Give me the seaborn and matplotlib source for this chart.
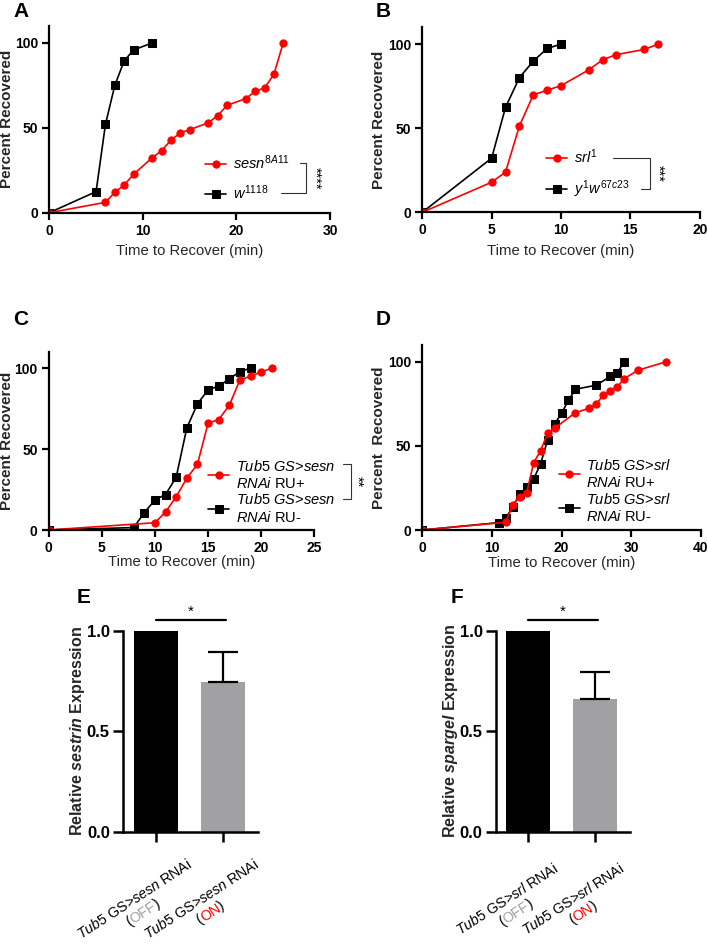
import numpy as np
import pandas as pd
import matplotlib
matplotlib.use('Agg')
import matplotlib.pyplot as plt
from matplotlib.ticker import FormatStrFormatter
import seaborn as sns

# --- Datos ---
# Panel A: sesn8A11 vs w1118
a_sesn_t = [0, 6, 7, 8, 9, 11, 12, 13, 14, 15, 17, 18, 19, 21, 22, 23, 24, 25]
a_sesn_pct = [0, 6.1, 12, 16.3, 22.6, 32.4, 36.5, 42.8, 47, 48.9, 53, 57.2, 63.3, 67.2, 71.5, 73.5, 81.5, 100]
a_w_t = [0, 5, 6, 7, 8, 9, 11]
a_w_pct = [0, 12.4, 52, 75, 89.4, 95.9, 100]

# Panel B: srl1 vs y1w67c23
b_srl_t = [0, 5, 6, 7, 8, 9, 10, 12, 13, 14, 16, 17]
b_srl_pct = [0, 17.9, 23.9, 51.3, 69.8, 72.6, 75.3, 84.7, 90.7, 93.8, 96.8, 100]
b_yw_t = [0, 5, 6, 7, 8, 9, 10]
b_yw_pct = [0, 32.2, 62.4, 80, 89.9, 97.4, 100]

# Panel C: Tub5 GS>sesn RNAi RU+ / RU-
c_on_t = [0, 10, 11, 12, 13, 14, 15, 16, 17, 18, 19, 20, 21]
c_on_pct = [0, 4.5, 11.1, 20.6, 32, 40.6, 66, 68.2, 77.1, 92.8, 95, 97.7, 100]
c_off_t = [0, 8, 9, 10, 11, 12, 13, 14, 15, 16, 17, 18, 19]
c_off_pct = [0, 1.5, 10.7, 18.6, 21.9, 32.6, 63.1, 77.9, 86.6, 88.9, 93.4, 97.9, 100]

# Panel D: Tub5 GS>srl RNAi RU+ / RU-
d_on_t = [0, 12, 13, 14, 15, 16, 17, 18, 19, 22, 24, 25, 26, 27, 28, 29, 31, 35]
d_on_pct = [0, 4.6, 15.1, 19.8, 22.2, 40, 47.2, 57.5, 60.5, 69.8, 72.4, 75, 80, 82.7, 84.9, 90, 95, 100]
d_off_t = [0, 11, 12, 13, 14, 15, 16, 17, 18, 19, 20, 21, 22, 25, 27, 28, 29]
d_off_pct = [0, 4.4, 7, 13.9, 21.2, 25.4, 30.4, 39.3, 53.6, 62.9, 69.4, 77, 83.7, 86.1, 91.3, 93.3, 100]

# Paneles E y F: expresion relativa
grupos = ['OFF', 'ON']
e_sestrin = [1.0, 0.745]
e_sestrin_err = [0, 0.15]
f_spargel = [1.0, 0.66]
f_spargel_err = [0, 0.136]

ROJO = '#ff0000'
GRIS = '#a1a1a4'

# --- Estilo ---
sns.set_style('ticks')
plt.rcParams['font.family'] = ['Liberation Sans', 'DejaVu Sans']
plt.rcParams['mathtext.fontset'] = 'custom'
plt.rcParams['mathtext.rm'] = 'Liberation Sans'
plt.rcParams['mathtext.it'] = 'Liberation Sans:italic'
plt.rcParams['mathtext.bf'] = 'Liberation Sans:bold'
try:
    plt.rcParams['mathtext.bfit'] = 'Liberation Sans:italic:bold'
except KeyError:
    pass
plt.rcParams['axes.edgecolor'] = 'black'
plt.rcParams['xtick.color'] = 'black'
plt.rcParams['ytick.color'] = 'black'
plt.rcParams['text.color'] = 'black'

W, H = 708, 947
fig = plt.figure(figsize=(W / 100, H / 100), dpi=100)


def ejes_px(l, t, r, b):
    return fig.add_axes([l / W, 1 - b / H, (r - l) / W, (b - t) / H])


def curva(ax, t, pct, color, marker, label):
    sns.lineplot(x=t, y=pct, color=color, marker=marker, markersize=5.2,
                 markeredgecolor=color, linewidth=1.2, errorbar=None,
                 label=label, ax=ax)
    return ax.lines[-1]


def estilo_curva(ax, xmax, xstep, xlab_y, ylab_x, ylabel='Percent Recovered'):
    ax.set_xlim(0, xmax)
    ax.set_ylim(0, 110)
    ax.set_xticks(np.arange(0, xmax + 1, xstep))
    ax.set_yticks([0, 50, 100])
    sns.despine(ax=ax)
    for sp in ['left', 'bottom']:
        ax.spines[sp].set_linewidth(1.6)
    ax.tick_params(direction='out', length=5, width=1.6, labelsize=10, pad=3)
    for lbl in ax.get_xticklabels() + ax.get_yticklabels():
        lbl.set_fontweight('bold')
    ax.set_xlabel('Time to Recover (min)', fontsize=10.7)
    ax.set_ylabel(ylabel, fontsize=11, fontweight='bold')
    ax.xaxis.set_label_coords(0.5, xlab_y)
    ax.yaxis.set_label_coords(ylab_x, 0.5)


def leyenda(ax, handles, labels, x, y, spacing):
    ax.legend(handles, labels, loc='center left', bbox_to_anchor=(x, y),
              frameon=False, fontsize=10.5, handlelength=1.45,
              handletextpad=0.45, labelspacing=spacing, borderpad=0,
              borderaxespad=0)


def corchete(ax, xs, ys, star_x, star_y, stars):
    ax.plot(xs, ys, transform=ax.transAxes, color='#333333', lw=0.8, clip_on=False)
    ax.text(star_x, star_y, stars, transform=ax.transAxes, rotation=270,
            ha='center', va='center', fontsize=10.5)


# --- A ---
ax_a = ejes_px(49.3, 26, 330, 212.7)
h_w = curva(ax_a, a_w_t, a_w_pct, 'black', 's', 'w')
h_s = curva(ax_a, a_sesn_t, a_sesn_pct, ROJO, 'o', 'sesn')
estilo_curva(ax_a, 30, 10, -0.165, -0.126)
leyenda(ax_a, [h_s, h_w], [r'$\mathit{sesn}^{\mathit{8A11}}$', r'$\mathit{w}^{\mathit{1118}}$'],
        0.555, 0.186, 0.8)
corchete(ax_a, [0.893, 0.915, 0.915, 0.825], [0.266, 0.266, 0.106, 0.106], 0.947, 0.186, '****')

# --- B ---
ax_b = ejes_px(422.3, 27.3, 699.7, 212.3)
h_y = curva(ax_b, b_yw_t, b_yw_pct, 'black', 's', 'yw')
h_r = curva(ax_b, b_srl_t, b_srl_pct, ROJO, 'o', 'srl')
estilo_curva(ax_b, 20, 5, -0.171, -0.13)
leyenda(ax_b, [h_r, h_y], [r'$\mathit{srl}^{\mathit{1}}$', r'$\mathit{y}^{\mathit{1}}\mathit{w}^{\mathit{67c23}}$'],
        0.447, 0.208, 0.8)
corchete(ax_b, [0.686, 0.82, 0.82, 0.789], [0.292, 0.292, 0.124, 0.124], 0.848, 0.208, '***')

# --- C ---
ax_c = ejes_px(48.7, 352, 314.3, 530)
h_coff = curva(ax_c, c_off_t, c_off_pct, 'black', 's', 'off')
h_con = curva(ax_c, c_on_t, c_on_pct, ROJO, 'o', 'on')
estilo_curva(ax_c, 25, 5, -0.138, -0.131)
leyenda(ax_c, [h_con, h_coff],
        [r'$\mathit{Tub5}$ $\mathit{GS}$>$\mathit{sesn}$' + '\n' + r'$\mathit{RNAi}$ RU+',
         r'$\mathit{Tub5}$ $\mathit{GS}$>$\mathit{sesn}$' + '\n' + r'$\mathit{RNAi}$ RU-'],
        0.6, 0.215, 0.1)
corchete(ax_c, [1.109, 1.137, 1.137, 1.109], [0.369, 0.369, 0.172, 0.172], 1.16, 0.27, '**')

# --- D ---
ax_d = ejes_px(422.3, 345, 700.7, 530)
h_doff = curva(ax_d, d_off_t, d_off_pct, 'black', 's', 'off')
h_don = curva(ax_d, d_on_t, d_on_pct, ROJO, 'o', 'on')
estilo_curva(ax_d, 40, 10, -0.142, -0.129, ylabel='Percent  Recovered')
leyenda(ax_d, [h_don, h_doff],
        [r'$\mathit{Tub5}$ $\mathit{GS}$>$\mathit{srl}$' + '\n' + r'$\mathit{RNAi}$ RU+',
         r'$\mathit{Tub5}$ $\mathit{GS}$>$\mathit{srl}$' + '\n' + r'$\mathit{RNAi}$ RU-'],
        0.49, 0.212, 0.1)


# --- E y F: barras ---
def barras(ax, valores, errores, ylabel, ylab_x):
    sns.barplot(x=grupos, y=valores, hue=grupos, palette=['black', GRIS],
                width=0.66, saturation=1, linewidth=0, legend=False, ax=ax)
    idx = [i for i, e in enumerate(errores) if e > 0]
    ax.errorbar([idx[0]], [valores[idx[0]]], yerr=[[0], [errores[idx[0]]]],
                fmt='none', ecolor='black', elinewidth=1.6, capsize=11, capthick=1.6)
    ax.set_xlim(-0.49, 1.52)
    ax.set_ylim(0, 1.0)
    ax.set_yticks([0, 0.5, 1.0])
    ax.yaxis.set_major_formatter(FormatStrFormatter('%.1f'))
    ax.set_xticks([0, 1])
    ax.set_xticklabels(['', ''])
    sns.despine(ax=ax)
    for sp in ['left', 'bottom']:
        ax.spines[sp].set_linewidth(1.8)
    ax.tick_params(direction='out', length=7.5, width=1.8, labelsize=12, pad=2)
    for lbl in ax.get_yticklabels():
        lbl.set_fontweight('bold')
    ax.set_xlabel('')
    ax.set_ylabel(ylabel, fontsize=11.5, fontweight='bold')
    ax.yaxis.set_label_coords(ylab_x, 0.5)
    # significancia
    ax.plot([0, 1.04], [1.053, 1.053], color='black', lw=1.6, clip_on=False)
    ax.text(0.52, 1.06, '*', ha='center', va='bottom', fontsize=11)


def etiqueta_rotada(ax, xcat, linea1, partes2, colores2, ang=33, fs=10.3):
    renderer = fig.canvas.get_renderer()
    x0, y0 = ax.transData.transform((xcat, 0))
    th = np.deg2rad(ang)
    u = np.array([np.cos(th), np.sin(th)])
    n = np.array([np.sin(th), -np.cos(th)])
    fs_px = fs * 100 / 72
    c1 = np.array([x0 - 22, y0 - 66.6])
    b1 = c1 + 0.36 * fs_px * n
    fig.text(b1[0] / W, b1[1] / H, linea1, rotation=ang, rotation_mode='anchor',
             ha='center', va='baseline', fontsize=fs)
    ws = []
    for s in partes2:
        tt = fig.text(0, 0, s, fontsize=fs)
        ws.append(tt.get_window_extent(renderer).width)
        tt.remove()
    c2 = c1 + 1.15 * fs_px * n
    start = c2 + 0.36 * fs_px * n - sum(ws) / 2 * u
    cum = 0
    for s, col, w in zip(partes2, colores2, ws):
        p = start + cum * u
        fig.text(p[0] / W, p[1] / H, s, color=col, rotation=ang, rotation_mode='anchor',
                 ha='left', va='baseline', fontsize=fs)
        cum += w


ax_e = ejes_px(123, 630.7, 258, 831.7)
barras(ax_e, e_sestrin, e_sestrin_err, r'Relative $\mathbfit{sestrin}$ Expression', -0.264)
ax_f = ejes_px(495.7, 630.7, 630, 831.7)
barras(ax_f, f_spargel, f_spargel_err, r'Relative $\mathbfit{spargel}$ Expression', -0.266)

etiqueta_rotada(ax_e, 0, r'$\mathit{Tub5}$ GS>$\mathit{sesn}$ RNAi', ['(', 'OFF', ')'], ['black', '#a0a0a0', 'black'])
etiqueta_rotada(ax_e, 1, r'$\mathit{Tub5}$ GS>$\mathit{sesn}$ RNAi', ['(', 'ON', ')'], ['black', ROJO, 'black'])
etiqueta_rotada(ax_f, 0, r'$\mathit{Tub5}$ GS>$\mathit{srl}$ RNAi', ['(', 'OFF', ')'], ['black', '#a0a0a0', 'black'])
etiqueta_rotada(ax_f, 1, r'$\mathit{Tub5}$ GS>$\mathit{srl}$ RNAi', ['(', 'ON', ')'], ['black', ROJO, 'black'])

# --- Letras de panel ---
for letra, x, y in [('A', 13, 2), ('B', 375.7, 2), ('C', 13, 310), ('D', 376, 310),
                    ('E', 77, 588), ('F', 451, 588)]:
    fig.text(x / W, 1 - y / H, letra, ha='left', va='top', fontsize=15, fontweight='bold')

fig.savefig('out.png', dpi=100)
